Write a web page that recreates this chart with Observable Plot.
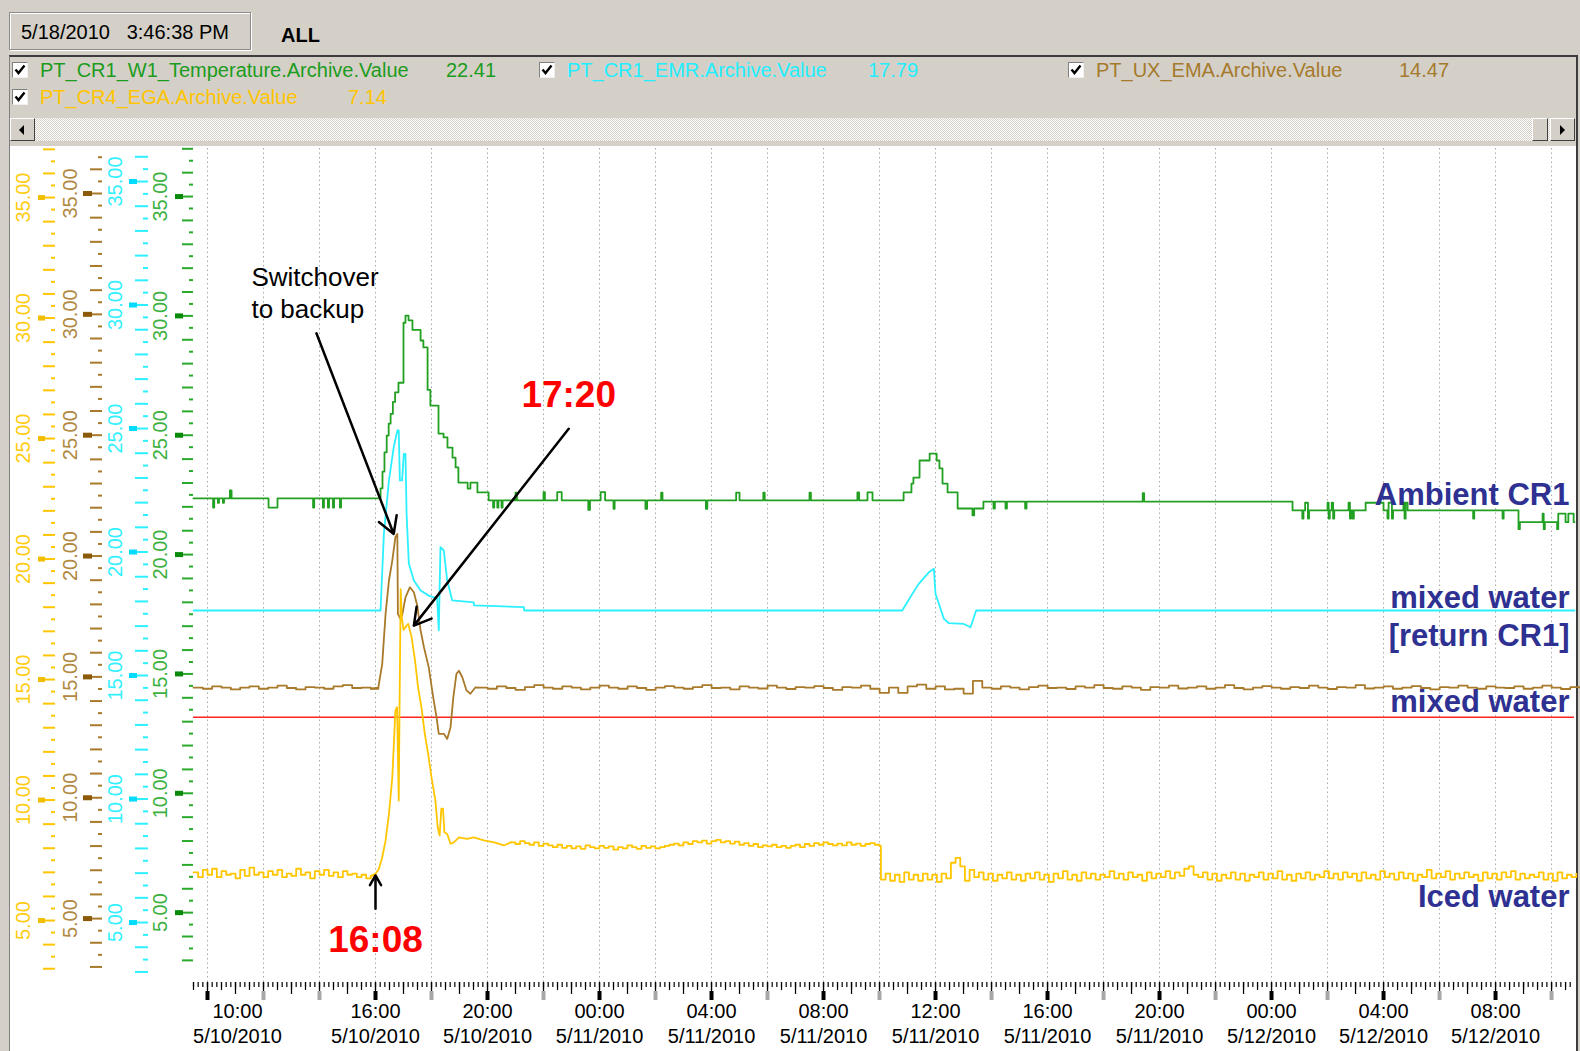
<!DOCTYPE html>
<html>
<head>
<meta charset="utf-8">
<script src="https://cdn.jsdelivr.net/npm/d3@7"></script>
<script src="https://cdn.jsdelivr.net/npm/@observablehq/plot@0.6"></script>
<style>
  html, body { margin:0; padding:0; }
  body { width:1580px; height:1051px; background:#d4d0c8; position:relative; overflow:hidden;
         font-family:"Liberation Sans", Arial, sans-serif; }
  .abs { position:absolute; }
  #datebox { left:9px; top:12px; width:242px; height:38px; border:1px solid #8c8c8c; box-shadow: inset 1px 1px 0 #fff, 1px 1px 0 #fff;
             font-size:20px; line-height:38px; padding-left:11px; box-sizing:border-box; color:#000; white-space:pre; }
  #all { left:281px; top:22px; font-size:20px; font-weight:bold; line-height:26px; }
  #panel { left:9px; top:55px; width:1569px; height:996px; border-top:2px solid #3c3c3c; border-right:2px solid #3c3c3c;
           border-left:1px solid #808080; box-sizing:border-box; }
  .leg { font-size:20px; line-height:24px; white-space:pre; }
  .cb { width:16px; height:16px; background:#fff; box-sizing:border-box; border:1px solid; border-color:#808080 #f0f0f0 #f0f0f0 #808080; }
  #scroll { left:10px; top:118px; width:1565px; height:23px;
            background: repeating-conic-gradient(#ffffff 0 25%, #d4d0c8 0 50%) 0 0/2px 2px; }
  .btn { background:#d4d0c8; border:1px solid; border-color:#fff #404040 #404040 #fff; box-sizing:border-box; }
  #chart { left:10px; top:146px; }
</style>
</head>
<body>
<div id="panel" class="abs"></div>
<div id="datebox" class="abs">5/18/2010   3:46:38 PM</div>
<div id="all" class="abs">ALL</div>
<div id="scroll" class="abs"></div>
<div class="abs btn" style="left:10px;top:118px;width:25px;height:23px;"><div style="position:absolute;left:8px;top:6px;width:0;height:0;border-top:5px solid transparent;border-bottom:5px solid transparent;border-right:5px solid #000;"></div></div>
<div class="abs btn" style="left:1532px;top:118px;width:16px;height:23px;"></div>
<div class="abs btn" style="left:1550px;top:118px;width:25px;height:23px;"><div style="position:absolute;left:9px;top:6px;width:0;height:0;border-top:5px solid transparent;border-bottom:5px solid transparent;border-left:5px solid #000;"></div></div>
<div id="legend"></div>
<div id="chart" class="abs"></div>
<script>
// ---------------- DATA ----------------
// time in hours after 5/10/2010 10:00
const legendNames  = ["PT_CR1_W1_Temperature.Archive.Value", "PT_CR1_EMR.Archive.Value", "PT_UX_EMA.Archive.Value", "PT_CR4_EGA.Archive.Value"];
const legendValues = ["22.41", "17.79", "14.47", "7.14"];

// Ambient CR1 (green), change points [hour, value]
const greenPts = [
 [-0.5,22.38],[0.2,22.0],[0.24,22.38],[0.37,22.2],[0.41,22.38],[0.55,22.2],[0.59,22.38],[0.8,22.71],[0.86,22.38],
 [2.18,22.0],[2.5,22.38],[3.77,22.0],[3.81,22.38],[4.12,22.0],[4.16,22.38],[4.3,22.0],[4.34,22.38],[4.48,22.0],[4.52,22.38],[4.73,22.0],[4.77,22.38],
 [6.18,22.8],[6.25,23.5],[6.32,24.3],[6.4,25.0],[6.47,25.5],[6.54,25.9],[6.62,26.4],[6.7,26.8],[6.82,27.2],[7.0,29.7],[7.07,30.0],[7.18,29.8],[7.32,29.4],
 [7.61,28.96],[7.71,28.67],[7.86,26.9],[7.96,26.25],[8.25,25.08],[8.43,24.92],[8.57,24.5],[8.75,24.08],[8.86,23.67],[8.96,23.04],[9.29,22.79],[9.39,23.04],[9.64,22.63],[10.04,22.3],
 [10.2,22.0],[10.24,22.3],[10.35,22.0],[10.39,22.3],[10.5,22.0],[10.54,22.3],[11.0,22.62],[11.05,22.3],[12.0,22.64],[12.05,22.3],[12.49,22.64],[12.65,22.3],
 [13.6,21.9],[13.66,22.3],[14.04,22.64],[14.2,22.3],[14.5,21.95],[14.54,22.3],[15.64,21.95],[15.7,22.3],[16.2,22.62],[16.25,22.3],[17.8,21.95],[17.85,22.3],
 [18.88,22.62],[19.0,22.3],[19.85,22.62],[19.9,22.3],[21.5,22.62],[21.55,22.3],[23.21,22.63],[23.27,22.3],[23.57,22.63],[23.75,22.3],
 [24.86,22.63],[25.14,23.0],[25.21,23.25],[25.43,23.96],[25.79,24.25],[26.04,23.96],[26.14,23.63],[26.25,23.0],[26.43,22.63],[26.79,21.96],[27.32,21.67],[27.38,21.96],[27.71,22.25],
 [28.07,21.96],[28.12,22.25],[28.5,21.96],[28.55,22.25],[29.2,21.96],[29.25,22.25],[33.4,22.6],[33.45,22.25],
 [38.75,21.88],[39.1,21.54],[39.14,21.88],[39.2,22.2],[39.3,21.54],[39.34,21.88],[40.0,22.2],[40.04,21.54],[40.08,21.88],[40.15,22.2],[40.2,21.54],[40.24,21.88],
 [40.75,22.2],[40.8,21.54],[40.84,21.88],[40.9,21.54],[40.94,21.88],[41.36,22.2],[42.0,21.88],[42.14,21.54],[42.18,22.2],[42.3,21.54],[42.34,21.88],
 [42.71,22.2],[42.75,21.54],[42.79,22.2],[42.86,21.88],[45.2,21.54],[45.24,21.88],[46.25,21.54],[46.29,21.88],
 [46.82,21.1],[46.87,21.39],[47.68,21.75],[47.72,21.1],[47.76,21.39],[48.2,21.1],[48.24,21.75],[48.5,21.39],[48.6,21.75],[48.79,21.39],[48.82,21.39]
];

// mixed water return CR1 (cyan) [hour, value]
const cyanPts = [
 [-0.5,17.71],[6.18,17.71],[6.3,20.92],[6.48,23.13],[6.65,24.51],[6.78,25.21],[6.83,25.21],[6.87,23.13],[6.95,23.13],[7.01,24.24],[7.07,24.24],
 [7.11,21.75],[7.19,19.67],[7.37,18.96],[7.61,18.54],[7.9,18.33],[8.2,18.21],[8.26,16.88],[8.32,20.35],[8.44,20.21],[8.56,18.96],[8.74,18.13],
 [9.51,18.05],[9.52,17.92],[11.3,17.85],[11.31,17.71],[24.81,17.71],[25.17,18.4],[25.4,18.82],[25.76,19.3],[25.94,19.45],[26.0,18.4],[26.12,17.99],
 [26.3,17.36],[26.48,17.18],[27.01,17.15],[27.25,17.01],[27.43,17.64],[27.45,17.71],[48.82,17.71]
];

// mixed water (brown): 20-minute readings before/after, event points between
const brownPreStart = -0.5;
const brownPre = [14.5,14.45,14.55,14.5,14.42,14.5,14.55,14.45,14.5,14.58,14.48,14.42,14.52,14.5,14.45,14.55,14.6,14.48,14.5,14.45];
const brownEvent = [
 [6.1,14.5],[6.24,15.49],[6.36,17.57],[6.48,18.96],[6.6,19.79],[6.71,20.76],[6.78,20.9],[6.8,17.57],[6.89,17.36],[6.95,17.5],[7.07,18.26],[7.23,18.68],
 [7.37,18.47],[7.49,17.92],[7.61,16.88],[7.73,16.18],[7.9,15.35],[8.06,14.1],[8.18,13.26],[8.26,12.57],[8.44,12.57],[8.56,12.36],[8.68,12.85],
 [8.78,14.1],[8.89,15.07],[8.98,15.2],[9.1,14.93],[9.25,14.38],[9.39,14.24],[9.57,14.51]
];
const brownPostStart = 9.67;
const brownPost = [
 14.5,14.45,14.55,14.48,14.4,14.52,14.6,14.5,14.45,14.55,14.5,
 14.42,14.5,14.58,14.5,14.45,14.55,14.48,14.4,14.5,14.56,14.5,
 14.45,14.52,14.6,14.48,14.5,14.42,14.55,14.5,14.46,14.58,14.5,
 14.44,14.52,14.5,14.56,14.48,14.4,14.52,14.5,14.58,14.45,14.28,
 14.5,14.28,14.55,14.62,14.45,14.55,14.42,14.45,14.25,14.78,14.5,
 14.45,14.55,14.5,14.42,14.52,14.58,14.48,14.5,14.44,14.55,14.5,
 14.6,14.48,14.45,14.55,14.5,14.4,14.52,14.5,14.58,14.46,14.5,
 14.55,14.45,14.5,14.6,14.48,14.42,14.5,14.56,14.5,14.45,14.52,
 14.48,14.58,14.5,14.44,14.52,14.5,14.6,14.46,14.5,14.55,14.45,
 14.5,14.56,14.48,14.42,14.52,14.5,14.58,14.5,14.45,14.55,14.5,
 14.48,14.55,14.45,14.5,14.58,14.5,14.44,14.52,14.5
];

// Iced water (yellow): 10-minute readings, event points
const yellowPreStart = -0.5;
const yellowPre = [6.8,6.6,6.9,6.7,6.95,6.6,6.85,6.7,6.75,6.55,6.9,6.65,7.0,6.7,6.8,6.6,6.85,6.7,6.9,6.6,
                   6.75,6.65,6.95,6.7,6.8,6.55,6.85,6.7,6.9,6.65,6.8,6.6,6.85,6.7,6.75,6.6,6.7,6.55,6.65];
const yellowEvent = [
 [6.0,6.74],[6.12,6.94],[6.24,7.43],[6.36,8.13],[6.48,9.24],[6.6,10.76],[6.65,12.0],[6.71,13.54],[6.77,13.68],[6.83,9.79],[6.86,13.9],
 [6.9,18.6],[6.94,17.4],[7.0,16.9],[7.11,17.08],[7.17,17.15],[7.29,16.6],[7.41,15.63],[7.52,14.51],[7.64,13.68],[7.76,12.57],[7.88,11.74],
 [8.0,10.76],[8.14,9.79],[8.22,8.68],[8.29,8.33],[8.35,9.45],[8.41,9.45],[8.46,8.47],[8.56,8.4],[8.68,7.99],[8.8,8.05],[8.98,8.26],
 [9.27,8.19],[9.51,8.26],[9.87,8.13],[10.24,8.05],[10.58,7.92]
];
const yellowMidStart = 10.83;
const yellowMid = [
 8.05,7.98,8.1,8.02,7.95,8.05,7.9,8.0,7.92,7.85,
 7.95,7.82,7.9,7.8,7.88,7.78,7.92,7.85,7.8,7.9,
 7.82,7.88,7.75,7.85,7.8,7.92,7.85,7.78,7.9,7.82,
 7.88,7.8,7.85,7.9,7.95,8.0,7.92,8.05,7.98,8.1,
 8.05,8.12,8.0,8.1,8.15,8.05,8.1,8.0,8.08,7.95,
 8.02,7.9,7.98,7.85,7.92,7.88,7.95,7.85,7.9,7.82,
 7.9,7.95,7.85,7.98,7.9,8.02,7.95,8.05,7.98,7.92,
 8.0,7.92,8.05,7.95,8.0,7.9,7.98,8.02,7.95,7.9
];
const yellowPostStart = 24.05;
const yellowPost = [
 6.5,6.75,6.45,6.7,6.4,6.8,6.5,6.7,6.45,6.75,
 6.5,6.7,6.4,6.75,6.55,7.2,7.4,7.05,6.45,6.9,
 6.6,6.8,6.5,6.75,6.45,6.7,6.55,6.8,6.5,6.7,
 6.45,6.75,6.55,6.8,6.5,6.7,6.4,6.75,6.55,6.85,
 6.5,6.7,6.45,6.8,6.55,6.75,6.5,6.7,6.6,6.85,
 6.55,6.75,6.5,6.8,6.6,6.7,6.45,6.8,6.55,6.75,
 6.6,6.85,6.55,6.8,6.65,6.95,7.05,6.7,6.6,6.8,
 6.5,6.75,6.45,6.7,6.55,6.8,6.5,6.75,6.45,6.7,
 6.6,6.8,6.5,6.75,6.55,6.85,6.5,6.7,6.45,6.75,
 6.55,6.8,6.5,6.7,6.6,6.85,6.55,6.75,6.5,6.8,
 6.6,6.75,6.45,6.8,6.55,6.7,6.5,6.85,6.6,6.75,
 6.5,6.8,6.55,6.75,6.45,6.7,6.6,6.9,6.55,6.75,
 6.6,6.85,6.5,6.75,6.55,6.8,6.6,6.7,6.45,6.8,
 6.55,6.75,6.5,6.8,6.6,6.85,6.5,6.75,6.55,6.7,
 6.6,6.8,6.5,6.75,6.45,6.8,6.55,6.7,6.6,6.75
];

const redLimit = 13.26;

// left axes: tick values and labels (same for all four)
const leftTicks  = d3.range(6, 75).map(i => i / 2);   // 3.0 .. 37.0
const leftLabels = [5, 10, 15, 20, 25, 30, 35];

// x axis (hours after 5/10/2010 10:00)
const xLabelHours = [0, 6, 10, 14, 18, 22, 26, 30, 34, 38, 42, 46];
const xGrayHours  = [2, 4, 8, 12, 16, 20, 24, 28, 32, 36, 40, 44, 48];

// annotations
const annotArrows = [
  {h1: 3.89, v1: 29.26, h2: 6.65, v2: 20.9},
  {h1: 12.9, v1: 25.28, h2: 7.37, v2: 17.08},
  {h1: 6.0,  v1: 5.28,  h2: 6.0,  v2: 6.67}
];
const rightLabelText   = ["Ambient CR1", "mixed water", "[return CR1]", "mixed water", "Iced water"];
const rightLabelValues = [22.54, 18.21, 16.63, 13.88, 5.79];

// ---------------- BUILD ----------------
const base = new Date(2010, 4, 10, 10, 0, 0);
const at = h => new Date(base.getTime() + h * 3600e3);
const pairs = arr => arr.map(([h, v]) => ({t: at(h), v}));
const regular = (start, stepH, vals) => vals.map((v, i) => ({t: at(start + i * stepH), v}));

const greenData  = pairs(greenPts);
const cyanData   = pairs(cyanPts);

const bPre = regular(brownPreStart, 1/3, brownPre), bEv = pairs(brownEvent), bPost = regular(brownPostStart, 1/3, brownPost);
const yPre = regular(yellowPreStart, 1/6, yellowPre), yEv = pairs(yellowEvent);
const yMid = regular(yellowMidStart, 1/6, yellowMid), yPost = regular(yellowPostStart, 1/6, yellowPost);

// step-drawn quiet stretches and straight-drawn event stretches (joined at their ends)
const brownSteps  = [[...bPre, bEv[0]], [...bPost]];
const brownEvLine = [bPre[bPre.length - 1], ...bEv, bPost[0]];
const yellowSteps = [[...yPre, yEv[0]], [...yMid, ...yPost]];
const yellowEvLine = [yPre[yPre.length - 1], ...yEv, yMid[0]];

const C = {
  green: "#22a022", cyan: "#2cf0ff", brown: "#a87a2a", yellow: "#ffc600", red: "#ff2222", navy: "#2e3192"
};

// legend (header)
const legendColors = ["#1c9c1c", "#22eeff", "#a67a2c", "#ffc400"];
const legPos = [
  {cb: 12, tx: 40, val: 446, row: 0},
  {cb: 539, tx: 567, val: 868, row: 0},
  {cb: 1068, tx: 1096, val: 1399, row: 0},
  {cb: 12, tx: 40, val: 348, row: 1}
];
const legEl = document.getElementById("legend");
legendNames.forEach((name, i) => {
  const p = legPos[i];
  const top = p.row === 0 ? 58 : 85;
  legEl.insertAdjacentHTML("beforeend",
    `<div class="abs cb" style="left:${p.cb}px;top:${top + 4}px;"><svg width="14" height="14" style="position:absolute;left:0;top:0"><path d="M2.5,6.5 L5.5,10 L11.5,2.5" fill="none" stroke="#000" stroke-width="2.4"/></svg></div>
     <div class="abs leg" style="left:${p.tx}px;top:${top}px;color:${legendColors[i]}">${name}</div>
     <div class="abs leg" style="left:${p.val}px;top:${top}px;color:${legendColors[i]}">${legendValues[i]}</div>`);
});

// chart
const yDomain = [2.21, 36.96];
const axes = [
  {color: C.yellow, label: "#ffcc11", mark: "#f2be00", k: 1.00417, b: -0.229, dx: -138, long: 12, short: 4, sqDx: -148, sq: 7, lab: -170},
  {color: C.brown,  label: "#b08840", mark: "#8c5a08", k: 1.00708, b: -0.1625, dx: -91, long: 12, short: 4, sqDx: -101, sq: 9, lab: -123},
  {color: C.cyan,   label: "#33f0ff", mark: "#00dcff", k: 1.0292, b: -0.4375, dx: -45, long: 13, short: 5, sqDx: -56, sq: 8, lab: -78},
  {color: "#2aaa2a", label: "#3cb040", mark: "#0a8a0a", k: 0.99458, b: 0.148, dx: 0, long: 11, short: 4, sqDx: -10, sq: 8, lab: -33}
];

const font = "Liberation Sans, Arial, sans-serif";
const lw = 1.8;
const marks = [];
marks.push(Plot.ruleX(d3.range(0, 49, 2).map(at), {stroke: "#a8a8a8", strokeDasharray: "1.5,3", strokeWidth: 1}));
marks.push(Plot.ruleY([redLimit], {stroke: C.red, strokeWidth: 1.6}));
marks.push(Plot.line(greenData, {x: "t", y: "v", stroke: C.green, strokeWidth: lw, curve: "step-after"}));
marks.push(Plot.line(cyanData, {x: "t", y: "v", stroke: C.cyan, strokeWidth: lw}));
for (const seg of brownSteps) marks.push(Plot.line(seg, {x: "t", y: "v", stroke: C.brown, strokeWidth: lw, curve: "step-after"}));
marks.push(Plot.line(brownEvLine, {x: "t", y: "v", stroke: C.brown, strokeWidth: lw}));
for (const seg of yellowSteps) marks.push(Plot.line(seg, {x: "t", y: "v", stroke: C.yellow, strokeWidth: lw, curve: "step-after"}));
marks.push(Plot.line(yellowEvLine, {x: "t", y: "v", stroke: C.yellow, strokeWidth: lw}));

axes.forEach(ax => {
  const cal = v => ax.k * v + ax.b;
  const inDom = v => cal(v) >= yDomain[0] && cal(v) <= yDomain[1];
  const ints = leftTicks.filter(v => Number.isInteger(v) && inDom(v)).map(cal);
  const halves = leftTicks.filter(v => !Number.isInteger(v) && inDom(v)).map(cal);
  const majors = leftLabels.filter(inDom);
  marks.push(Plot.axisY(ints, {anchor: "left", tickSize: ax.long, dx: ax.dx, stroke: ax.color, strokeWidth: 2, fill: "none", label: null, tickFormat: () => ""}));
  marks.push(Plot.axisY(halves, {anchor: "left", tickSize: ax.short, dx: ax.dx, stroke: ax.color, strokeWidth: 2, fill: "none", label: null, tickFormat: () => ""}));
  marks.push(Plot.axisY(majors.map(cal), {anchor: "left", tickSize: ax.sq, dx: ax.sqDx, stroke: ax.mark, strokeWidth: 5, fill: "none", label: null, tickFormat: () => ""}));
  marks.push(Plot.text(majors, {y: cal, text: d => d.toFixed(2), frameAnchor: "left", dx: ax.lab, rotate: -90,
    textAnchor: "middle", lineAnchor: "middle", fill: ax.label, fontSize: 20, fontFamily: font}));
});

// x-axis ticks
const tenMin = d3.range(0, 296).map(i => at(-0.5 + i / 6));
const halfHr = d3.range(0, 99).map(i => at(-0.5 + i / 2));
const hourly = d3.range(0, 49).map(at);
marks.push(Plot.axisX(tenMin, {anchor: "bottom", tickSize: 5, stroke: "#000", strokeWidth: 1.2, fill: "none", label: null, tickFormat: () => ""}));
marks.push(Plot.axisX(halfHr, {anchor: "bottom", tickSize: 8, stroke: "#000", strokeWidth: 1.2, fill: "none", label: null, tickFormat: () => ""}));
marks.push(Plot.axisX(hourly, {anchor: "bottom", tickSize: 12, stroke: "#000", strokeWidth: 1.2, fill: "none", label: null, tickFormat: () => ""}));
marks.push(Plot.axisX(xGrayHours.map(at), {anchor: "bottom", tickSize: 9, dy: 9, stroke: "#a8a8a8", strokeWidth: 4, fill: "none", label: null, tickFormat: () => ""}));
marks.push(Plot.axisX(xLabelHours.map(at), {anchor: "bottom", tickSize: 9, dy: 9, stroke: "#000", strokeWidth: 4, fill: "none", label: null, tickFormat: () => ""}));

const fmtT = d3.timeFormat("%H:%M");
const fmtD = d => `${d.getMonth() + 1}/${d.getDate()}/${d.getFullYear()}`;
const firstLab = [at(xLabelHours[0])];
const restLab = xLabelHours.slice(1).map(at);
for (const [data, dx] of [[firstLab, 30], [restLab, 0]]) {
  marks.push(Plot.text(data, {x: d => d, text: fmtT, frameAnchor: "bottom", dy: 35, dx, fontSize: 20, fill: "#000", fontFamily: font}));
  marks.push(Plot.text(data, {x: d => d, text: fmtD, frameAnchor: "bottom", dy: 60, dx, fontSize: 20, fill: "#000", fontFamily: font}));
}

// annotations
marks.push(Plot.arrow(annotArrows, {x1: d => at(d.h1), y1: "v1", x2: d => at(d.h2), y2: "v2", stroke: "#000", strokeWidth: 2.5, headLength: 11.4, headAngle: 60}));
marks.push(Plot.text(["Switchover\nto backup"], {x: at(1.57), y: 31.0, text: d => d, textAnchor: "start", lineAnchor: "middle", lineHeight: 1.23, fontSize: 26, fill: "#000", fontFamily: font}));
marks.push(Plot.text(["17:20"], {x: at(12.9), y: 26.67, text: d => d, fontSize: 37, fontWeight: "bold", fill: "#ff0000", fontFamily: font}));
marks.push(Plot.text(["16:08"], {x: at(6.0), y: 3.96, text: d => d, fontSize: 37, fontWeight: "bold", fill: "#ff0000", fontFamily: font}));
marks.push(Plot.text(rightLabelText, {y: (d, i) => rightLabelValues[i], text: d => d, frameAnchor: "right", textAnchor: "end", dx: -5,
  fontSize: 31, fontWeight: "bold", fill: C.navy, fontFamily: font}));

const chart = Plot.plot({
  width: 1566, height: 905,
  marginLeft: 183, marginRight: 2, marginTop: 2, marginBottom: 69,
  x: {type: "time", domain: [at(-0.5), at(48.82)]},
  y: {domain: yDomain},
  style: {background: "#ffffff", overflow: "visible", fontFamily: font},
  marks
});
document.getElementById("chart").appendChild(chart);
</script>
</body>
</html>
